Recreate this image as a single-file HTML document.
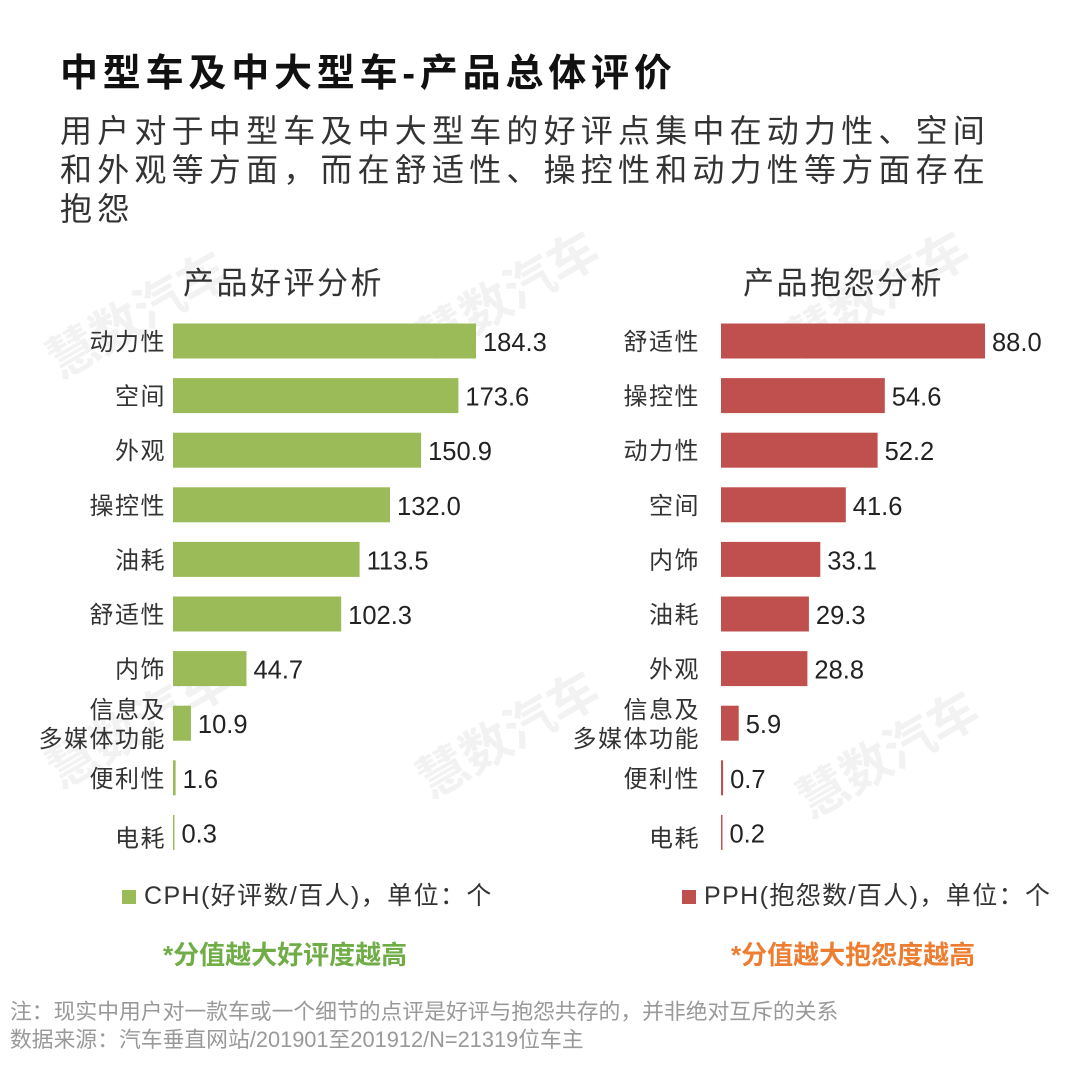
<!DOCTYPE html>
<html><head><meta charset="utf-8">
<style>
body{margin:0;width:1080px;height:1080px;background:#fff;overflow:hidden;font-family:"Liberation Sans","Noto Sans CJK SC",sans-serif;}
#root{position:relative;width:1080px;height:1080px;}
.t{position:absolute;white-space:nowrap;color:#222;}
</style></head><body>
<div id="root">
<div class="t" style="left:60px;top:42px;font-size:38px;letter-spacing:4.8px;font-weight:bold;color:#111;">中型车及中大型车-产品总体评价</div>
<div class="t" style="left:60px;top:112px;font-size:32px;letter-spacing:5.2px;line-height:39px;color:#333;">用户对于中型车及中大型车的好评点集中在动力性、空间<br>和外观等方面，而在舒适性、操控性和动力性等方面存在<br>抱怨</div>
<div class="t" style="left:183px;top:258px;font-size:31px;letter-spacing:2.5px;color:#333;">产品好评分析</div>
<div class="t" style="left:743px;top:258px;font-size:31px;letter-spacing:2.5px;color:#333;">产品抱怨分析</div>
<svg id="chart" width="1080" height="1080" style="position:absolute;left:0;top:0"></svg>
<div class="t" style="left:122px;top:876px;font-size:25px;letter-spacing:1.4px;color:#333;"><span style="display:inline-block;width:14px;height:14px;background:#9BBB59;margin-right:8px;"></span>CPH(好评数/百人)，单位：个</div>
<div class="t" style="left:682px;top:876px;font-size:25px;letter-spacing:1.4px;color:#333;"><span style="display:inline-block;width:14px;height:14px;background:#C0504D;margin-right:8px;"></span>PPH(抱怨数/百人)，单位：个</div>
<div class="t" style="left:163px;top:935px;font-size:26px;font-weight:bold;color:#70AD47;">*分值越大好评度越高</div>
<div class="t" style="left:731px;top:935px;font-size:26px;font-weight:bold;color:#ED7D31;">*分值越大抱怨度越高</div>
<div class="t" style="left:10px;top:998px;font-size:21.8px;line-height:28px;color:#999;">注：现实中用户对一款车或一个细节的点评是好评与抱怨共存的，并非绝对互斥的关系<br>数据来源：汽车垂直网站/201901至201912/N=21319位车主</div>
</div>
<script>
const goodCats=["动力性","空间","外观","操控性","油耗","舒适性","内饰","信息及|多媒体功能","便利性","电耗"];
const goodVals=[184.3,173.6,150.9,132.0,113.5,102.3,44.7,10.9,1.6,0.3];
const badCats=["舒适性","操控性","动力性","空间","内饰","油耗","外观","信息及|多媒体功能","便利性","电耗"];
const badVals=[88.0,54.6,52.2,41.6,33.1,29.3,28.8,5.9,0.7,0.2];
const svg=document.getElementById('chart');
const NS='http://www.w3.org/2000/svg';
function mk(tag,attrs){const e=document.createElementNS(NS,tag);for(const k in attrs)e.setAttribute(k,attrs[k]);svg.appendChild(e);return e;}
[[60,790],[430,800],[810,820],[60,380],[430,360],[800,360]].forEach(p=>{
 const w=mk('text',{x:p[0],y:p[1],'font-size':50,'font-weight':'bold',fill:'#000','fill-opacity':0.05,transform:`rotate(-30 ${p[0]} ${p[1]})`,'font-family':'Noto Sans CJK SC,sans-serif'});
 
 
 w.textContent='慧数汽车';
});
function yPos(i){return 341+i*54.6;}
function drawChart(cats,vals,x0,scale,labelX,color,prefix){
 cats.forEach((c,i)=>{
  const yc=yPos(i);
  const w=Math.max(vals[i]*scale,1.5);
  const r=mk('rect',{x:x0,y:yc-17.5,width:w,height:35,fill:color});
  
  
  const v=mk('text',{x:x0+w+7,y:yc+10,'font-size':25.5,fill:'#222','font-family':'Liberation Sans,sans-serif'});
  
  
  v.textContent=vals[i].toFixed(1);
  const parts=c.split('|');
  parts.forEach((p,j)=>{
   const off=parts.length>1?(j===0?-5:24):9;
   const t=mk('text',{x:labelX,y:yc+off+(i===9?5:0),'font-size':24,'letter-spacing':1.5,fill:'#333','text-anchor':'end','font-family':'Noto Sans CJK SC,sans-serif'});
   
   
   t.textContent=p;
  });
 });
}
drawChart(goodCats,goodVals,173,303/184.3,166,'#9BBB59','good');
drawChart(badCats,badVals,721,264/88,700,'#C0504D','bad');
</script>
</body></html>
